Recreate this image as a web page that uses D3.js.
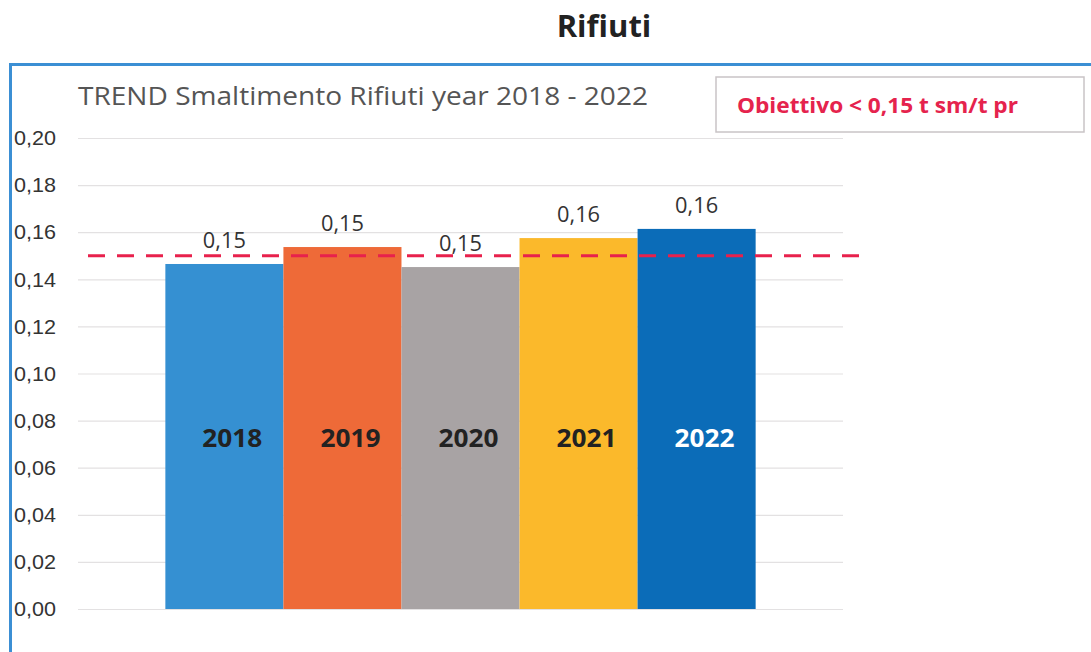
<!DOCTYPE html>
<html>
<head>
<meta charset="utf-8">
<script src="https://cdn.jsdelivr.net/npm/d3@7"></script>
<style>
  body { margin: 0; background: #fff; }
  svg { display: block; font-family: "Open Sans", "Noto Sans", sans-serif; }
</style>
</head>
<body>
<div id="chart"></div>
<script>
// chart data
const years = ["2018", "2019", "2020", "2021", "2022"];
const values = [0.1465, 0.1537, 0.1452, 0.1575, 0.1614];
const valueLabels = ["0,15", "0,15", "0,15", "0,16", "0,16"];
const barColors = ["#3590d2", "#ee6a38", "#a8a3a4", "#fbb92b", "#0b6cb8"];
const yearColors = ["#222", "#222", "#222", "#222", "#fff"];
const yTicks = [0, 0.02, 0.04, 0.06, 0.08, 0.10, 0.12, 0.14, 0.16, 0.18, 0.20];
const target = 0.15;

const W = 1091, H = 652;

const svg = d3.select("#chart")
  .append("svg")
  .attr("width", W)
  .attr("height", H);

// scales
const x = d3.scaleBand()
  .domain(years)
  .range([78, 843])
  .paddingInner(0)
  .paddingOuter(0.74);

const y = d3.scaleLinear()
  .domain([0, 0.20])
  .range([609, 138]);

const fmt = d => d.toFixed(2).replace(".", ",");

// outer frame (blue border, open at the right/bottom like the scan)
svg.append("path")
  .attr("d", `M10.5,${H} V64.5 H${W}`)
  .attr("fill", "none")
  .attr("stroke", "#3b8fd4")
  .attr("stroke-width", 3);

// main title
svg.append("text")
  .attr("x", 604)
  .attr("y", 37)
  .attr("text-anchor", "middle")
  .attr("font-size", 31)
  .attr("font-weight", "bold")
  .attr("fill", "#222")
  .text("Rifiuti");

// chart subtitle
svg.append("text")
  .attr("x", 78)
  .attr("y", 105)
  .attr("font-size", 26)
  .attr("fill", "#555")
  .attr("textLength", 570)
  .attr("lengthAdjust", "spacingAndGlyphs")
  .text("TREND Smaltimento Rifiuti year 2018 - 2022");

// target box
svg.append("rect")
  .attr("x", 716)
  .attr("y", 77)
  .attr("width", 368)
  .attr("height", 55)
  .attr("fill", "#fff")
  .attr("stroke", "#c9c4c6")
  .attr("stroke-width", 1.5);

svg.append("text")
  .attr("x", 737)
  .attr("y", 113)
  .attr("font-size", 21)
  .attr("font-weight", "bold")
  .attr("fill", "#e5234d")
  .attr("textLength", 281)
  .attr("lengthAdjust", "spacingAndGlyphs")
  .text("Obiettivo < 0,15 t sm/t pr");

// y axis: gridlines + labels
const yAxis = svg.append("g")
  .attr("transform", "translate(78,0)")
  .call(d3.axisLeft(y).tickValues(yTicks).tickSize(-765).tickFormat(fmt));

yAxis.select(".domain").remove();
yAxis.selectAll(".tick line")
  .attr("stroke", "#e3e1e2")
  .attr("stroke-width", 1.2);
yAxis.selectAll(".tick text")
  .attr("x", -64)
  .attr("text-anchor", "start")
  .attr("font-size", 21)
  .attr("textLength", 42)
  .attr("lengthAdjust", "spacingAndGlyphs")
  .attr("fill", "#333");

// bars
const data = years.map((yr, i) => ({ year: yr, value: values[i], label: valueLabels[i], color: barColors[i], textColor: yearColors[i] }));

svg.selectAll(".bar")
  .data(data)
  .enter()
  .append("rect")
  .attr("class", "bar")
  .attr("x", d => x(d.year))
  .attr("y", d => y(d.value))
  .attr("width", x.bandwidth())
  .attr("height", d => y(0) - y(d.value))
  .attr("fill", d => d.color);

// value labels above bars
svg.selectAll(".label")
  .data(data)
  .enter()
  .append("text")
  .attr("class", "label")
  .attr("x", d => x(d.year) + x.bandwidth() / 2)
  .attr("y", d => y(d.value) - 16)
  .attr("text-anchor", "middle")
  .attr("font-size", 21)
  .attr("textLength", 43)
  .attr("lengthAdjust", "spacingAndGlyphs")
  .attr("fill", "#333")
  .text(d => d.label);

// year labels inside bars
svg.selectAll(".year")
  .data(data)
  .enter()
  .append("text")
  .attr("class", "year")
  .attr("x", d => x(d.year) + x.bandwidth() / 2 + 8)
  .attr("y", y(0.069))
  .attr("text-anchor", "middle")
  .attr("font-size", 25)
  .attr("font-weight", "bold")
  .attr("textLength", 60)
  .attr("lengthAdjust", "spacingAndGlyphs")
  .attr("fill", d => d.textColor)
  .text(d => d.year);

// target dashed line
svg.append("line")
  .attr("x1", 88)
  .attr("x2", 862)
  .attr("y1", y(target))
  .attr("y2", y(target))
  .attr("stroke", "#e8214c")
  .attr("stroke-width", 3)
  .attr("stroke-dasharray", "17,12");
</script>
</body>
</html>
